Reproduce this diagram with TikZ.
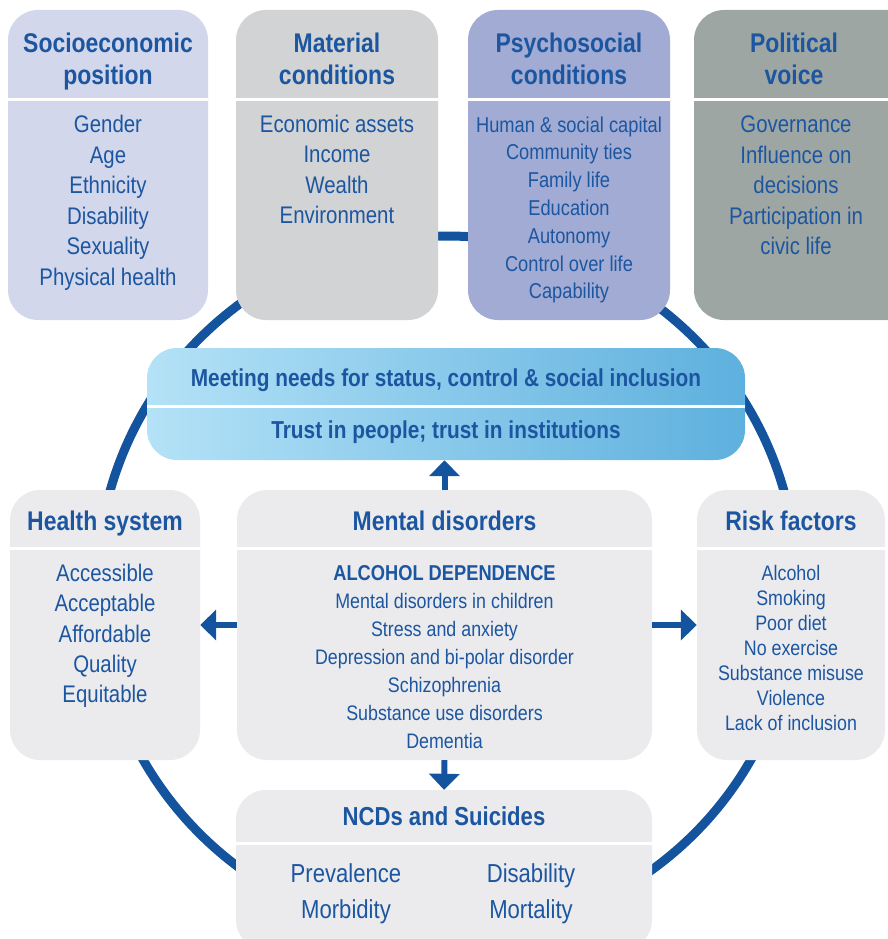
\documentclass[tikz,border=0pt]{standalone}
\usepackage{fontspec}
\setmainfont{Liberation Sans}[FakeStretch=0.85]
\usetikzlibrary{positioning, arrows.meta}

\definecolor{ringblue}{RGB}{20,84,158}
\definecolor{textblue}{RGB}{28,86,160}
\definecolor{sepfill}{RGB}{210,215,235}
\definecolor{matfill}{RGB}{209,211,212}
\definecolor{psyfill}{RGB}{161,171,211}
\definecolor{polfill}{RGB}{158,166,163}
\definecolor{midfill}{RGB}{235,235,238}
\definecolor{meetleft}{RGB}{180,226,247}
\definecolor{meetright}{RGB}{94,176,222}

\newcommand{\hdfont}{\fontsize{27}{32}\selectfont\bfseries}
\newcommand{\bdfont}{\fontsize{24}{30.5}\selectfont}

\tikzset{
	box/.style={rectangle, rounded corners=30pt, inner sep=0pt},
	divider/.style={white, line width=3pt},
	headtext/.style={text=textblue, align=center, font=\hdfont, yshift=-2.5pt},
	bodytext/.style={text=textblue, align=center, font=\bdfont, yshift=-2.5pt},
	flow/.style={ringblue, line width=6pt, -{Triangle[length=16pt,width=30pt]}},
}

\begin{document}
\begin{tikzpicture}[x=1pt, y=-1pt]
	\useasboundingbox (0,0) rectangle (888,939);
	\clip (0,0) rectangle (888,939);

	% ring behind the boxes
	\draw[ringblue, line width=9pt] (447,586) circle[radius=350];

	% top row
	\node[box, fill=sepfill, minimum width=200pt, minimum height=310pt] (sep) at (108,165) {};
	\node[box, fill=matfill, minimum width=202pt, minimum height=310pt] (mat) at (337,165) {};
	\node[box, fill=psyfill, minimum width=202pt, minimum height=310pt] (psy) at (569,165) {};
	\node[box, fill=polfill, minimum width=240pt, minimum height=310pt] (pol) at (814,165) {};
	\foreach \b in {sep,mat,psy,pol}
		\draw[divider] (\b.west |- 0,100) -- (\b.east |- 0,100);

	\node[headtext] (sep-head) at (108,59) {Socioeconomic\\position};
	\node[headtext] (mat-head) at (337,56) {Material\\conditions};
	\node[headtext] (psy-head) at (569,56) {Psychosocial\\conditions};
	\node[headtext] (pol-head) at (794,56) {Political\\voice};

	\node[bodytext] (sep-body) at (108,200.5) {Gender\\Age\\Ethnicity\\Disability\\Sexuality\\Physical health};
	\node[bodytext] (mat-body) at (337,167) {Economic assets\\Income\\Wealth\\Environment};
	\node[bodytext, font=\fontsize{21.5}{27.8}\selectfont] (psy-body) at (569,207.5) {Human \& social capital\\Community ties\\Family life\\Education\\Autonomy\\Control over life\\Capability};
	\node[bodytext] (pol-body) at (796,183) {Governance\\Influence on\\decisions\\Participation in\\civic life};

	% needs band
	\node[box, left color=meetleft, right color=meetright, minimum width=598pt, minimum height=112pt] (meet) at (446,404) {};
	\draw[divider] (meet.west |- 0,406) -- (meet.east |- 0,406);
	\node[headtext, font=\fontsize{24.5}{28}\selectfont\bfseries] (meet-top) at (446,378) {Meeting needs for status, control \& social inclusion};
	\node[headtext, font=\fontsize{24.5}{28}\selectfont\bfseries] (meet-bot) at (446,430) {Trust in people; trust in institutions};

	% middle row
	\node[box, fill=midfill, minimum width=190pt, minimum height=270pt] (health) at (105,625) {};
	\node[box, fill=midfill, minimum width=415pt, minimum height=270pt] (mental) at (444.5,625) {};
	\node[box, fill=midfill, minimum width=188pt, minimum height=270pt] (risk) at (791,625) {};
	\foreach \b in {health,mental,risk}
		\draw[divider] (\b.west |- 0,548) -- (\b.east |- 0,548);

	\node[headtext] (health-head) at (105,521) {Health system};
	\node[headtext] (mental-head) at (444.5,518) {Mental disorders};
	\node[headtext] (risk-head) at (791,518) {Risk factors};

	\node[bodytext, font=\fontsize{24}{30.25}\selectfont] (health-body) at (105,633.5) {Accessible\\Acceptable\\Affordable\\Quality\\Equitable};
	\node[bodytext, font=\fontsize{21}{28}\selectfont] (mental-body) at (444.5,654.5) {\textbf{\fontsize{21.5}{28}\selectfont ALCOHOL DEPENDENCE}\\Mental disorders in children\\Stress and anxiety\\Depression and bi-polar disorder\\Schizophrenia\\Substance use disorders\\Dementia};
	\node[bodytext, font=\fontsize{21}{25}\selectfont] (risk-body) at (791,645.5) {Alcohol\\Smoking\\Poor diet\\No exercise\\Substance misuse\\Violence\\Lack of inclusion};

	% outcomes
	\node[box, fill=midfill, minimum width=416pt, minimum height=160pt] (ncd) at (444,870) {};
	\draw[divider] (ncd.west |- 0,843) -- (ncd.east |- 0,843);
	\node[headtext, font=\fontsize{26}{32}\selectfont\bfseries] (ncd-head) at (444,814) {NCDs and Suicides};
	\node[bodytext, font=\fontsize{26}{36}\selectfont] (ncd-left) at (346,891) {Prevalence\\Morbidity};
	\node[bodytext, font=\fontsize{26}{36}\selectfont] (ncd-right) at (531,891) {Disability\\Mortality};

	% arrows out of the centre box
	\draw[flow] (mental.north) -- (mental.north |- meet.south);
	\draw[flow] (mental.west) -- (health.east);
	\draw[flow] (mental.east) -- (risk.west);
	\draw[flow] (mental.south) -- (ncd.north);
\end{tikzpicture}
\end{document}
